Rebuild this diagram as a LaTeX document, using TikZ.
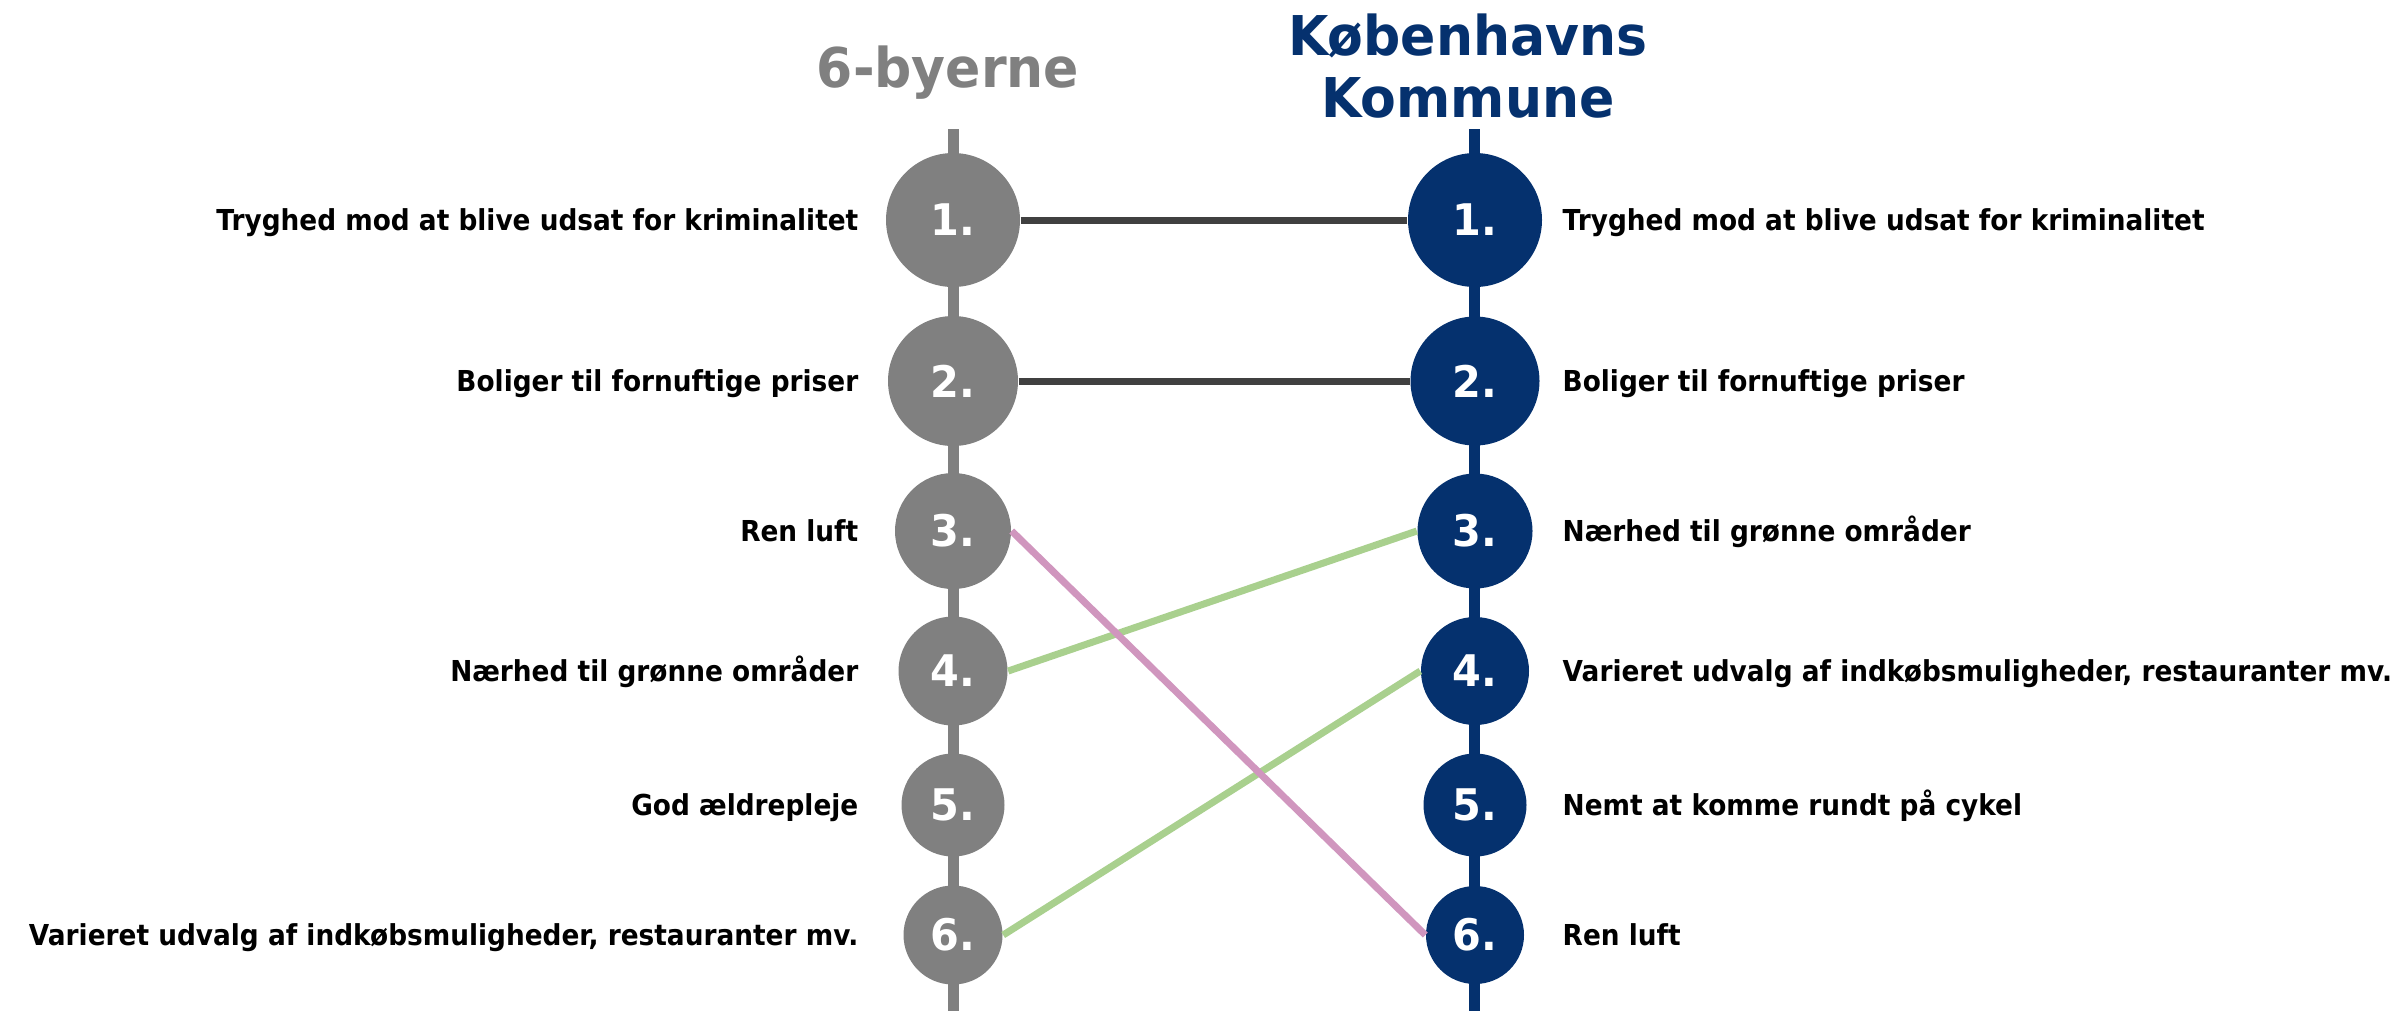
\documentclass[tikz,border=0pt]{standalone}
\usepackage{fontspec}
\setmainfont{DejaVu Sans}[FakeStretch=0.915]
\newfontfamily\titlefont{DejaVu Sans}[FakeStretch=0.95]
\usepackage{tikz}
\usetikzlibrary{positioning}
\definecolor{citygray}{RGB}{128,128,128}
\definecolor{kkblue}{RGB}{5,49,110}
\definecolor{linkdark}{RGB}{64,64,64}
\definecolor{linkpink}{RGB}{208,150,190}
\definecolor{linkgreen}{RGB}{169,208,142}
\tikzset{
  rank/.style={circle,inner sep=0pt,text=white,font=\titlefont\fontsize{12.4}{13}\selectfont\bfseries},
  lrank/.style={rank,fill=citygray},
  rrank/.style={rank,fill=kkblue},
  lbl/.style={font=\fontsize{8.2}{9}\selectfont\bfseries,text=black,inner sep=0pt,
              text height=2.1mm,text depth=0pt},
  ttl/.style={font=\titlefont\fontsize{15.6}{17.6}\selectfont\bfseries,inner sep=0pt,align=center},
  axisline/.style={line width=1.1mm},
  lnk/.style={line width=0.7mm},
}
\begin{document}
\begin{tikzpicture}[x=0.1mm,y=-0.1mm]
  \useasboundingbox (0,0) rectangle (2405,1011);
  % ── column headers ──
  \node[ttl,text=citygray,anchor=base] (thead) at (948,87) {6-byerne};
  \node[ttl,text=kkblue] (khead) at (1468,66) {Københavns\\Kommune};
  % ── the two vertical axes ──
  \coordinate (ltop) at (953,129);  \coordinate (lbot) at (953,1011);
  \coordinate (rtop) at (1474,129); \coordinate (rbot) at (1474,1011);
  \draw[axisline,citygray] (ltop) -- (lbot);
  \draw[axisline,kkblue]   (rtop) -- (rbot);
  % ── rank circles ──
  \foreach \n/\y/\r/\rr in {1/220/67/67,2/381/65/64.5,3/531/58/57.5,4/671/54.5/54,5/805/51.5/51.5,6/935/49.5/49}{
    \node[lrank,minimum size=\r*0.2mm]  (l\n) at (953,\y)  {\n.};
    \node[rrank,minimum size=\rr*0.2mm] (r\n) at (1475,\y) {\n.};
  }
  % ── labels, left column right-aligned, right column left-aligned ──
  \foreach \n/\y/\txt in {1/220/Tryghed mod at blive udsat for kriminalitet,
                          2/381/Boliger til fornuftige priser,
                          3/531/Ren luft,
                          4/671/Nærhed til grønne områder,
                          5/805/God ældrepleje,
                          6/935/{Varieret udvalg af indkøbsmuligheder, restauranter mv.}}{
    \node[lbl,anchor=east] (ll\n) at (859,\y) {\txt};
  }
  \foreach \n/\y/\txt in {1/220/Tryghed mod at blive udsat for kriminalitet,
                          2/381/Boliger til fornuftige priser,
                          3/531/Nærhed til grønne områder,
                          4/671/{Varieret udvalg af indkøbsmuligheder, restauranter mv.},
                          5/805/Nemt at komme rundt på cykel,
                          6/935/Ren luft}{
    \node[lbl,anchor=west] (rl\n) at (1562,\y) {\txt};
  }
  % ── rank links ──
  \draw[lnk,linkdark]  (l1) -- (r1);
  \draw[lnk,linkdark]  (l2) -- (r2);
  \draw[lnk,linkgreen] (l4.east) -- (r3.west);
  \draw[lnk,linkgreen] (l6.east) -- (r4.west);
  \draw[lnk,linkpink]  (l3.east) -- (r6.west);
\end{tikzpicture}
\end{document}
